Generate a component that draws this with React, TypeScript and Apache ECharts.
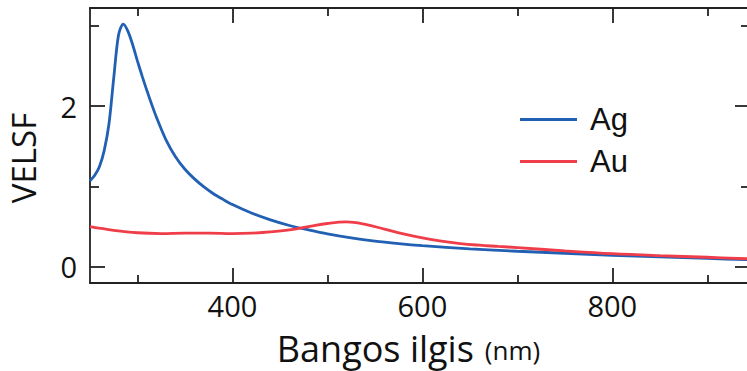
import React, { useEffect, useRef } from "react";
import * as echarts from "echarts";

// Ag (blue) curve: wavelength (nm) and VELSF values
const agNm = [250, 255, 260, 265, 270, 275, 280, 285, 290, 295, 300, 305, 310, 315, 320, 330, 340, 350, 360, 370, 380, 390, 400, 420, 440, 460, 480, 500, 525, 550, 575, 600, 650, 700, 750, 800, 850, 900, 945];
const agVal = [1.07, 1.14, 1.25, 1.45, 1.78, 2.35, 2.88, 3.02, 2.93, 2.76, 2.56, 2.37, 2.19, 2.02, 1.86, 1.58, 1.37, 1.215, 1.095, 0.995, 0.91, 0.84, 0.775, 0.67, 0.585, 0.515, 0.46, 0.41, 0.36, 0.32, 0.29, 0.265, 0.225, 0.195, 0.17, 0.145, 0.125, 0.105, 0.09];

// Au (red) curve
const auNm = [250, 275, 300, 325, 350, 375, 400, 420, 440, 460, 480, 500, 520, 540, 560, 580, 600, 620, 640, 660, 680, 700, 750, 800, 850, 900, 945];
const auVal = [0.5, 0.455, 0.425, 0.415, 0.42, 0.42, 0.415, 0.42, 0.435, 0.46, 0.5, 0.54, 0.56, 0.53, 0.47, 0.41, 0.36, 0.32, 0.29, 0.27, 0.255, 0.24, 0.2, 0.165, 0.14, 0.12, 0.1];

const seriesNames = ["Ag", "Au"];
const xMajorTicks = [400, 600, 800];
const xMinorTicks = [300, 500, 700, 900];
const yMajorTicks = [0, 2];
const yMinorTicks = [1, 3];

const X_MIN = 250;
const X_MAX = 945;
const Y_MIN = -0.2;
const Y_MAX = 3.22;

const AXIS_COLOR = "#222";
const LABEL_FONT = "'Open Sans', 'DejaVu Sans', sans-serif";

export default function App() {
  const ref = useRef<HTMLDivElement>(null);

  useEffect(() => {
    if (!ref.current) return;
    const chart = echarts.init(ref.current, undefined, { renderer: "svg" });

    const line = { show: true, onZero: false, lineStyle: { color: AXIS_COLOR, width: 1.8 } };
    const noLine = { show: false, onZero: false };
    const tickStyle = { color: AXIS_COLOR, width: 1.8 };

    const xAx = (position: string, major: boolean, showLabel: boolean, extra: any = {}) => ({
      type: "value",
      position,
      min: X_MIN,
      max: X_MAX,
      axisLine: major ? line : noLine,
      axisTick: {
        show: true,
        inside: true,
        length: major ? 15 : 8,
        customValues: major ? xMajorTicks : xMinorTicks,
        lineStyle: tickStyle,
      },
      axisLabel: {
        show: showLabel,
        customValues: major ? xMajorTicks : xMinorTicks,
        fontSize: 29,
        fontFamily: LABEL_FONT,
        color: "#111",
        margin: 8,
      },
      splitLine: { show: false },
      ...extra,
    });

    const yAx = (position: string, major: boolean, showLabel: boolean, extra: any = {}) => ({
      type: "value",
      position,
      min: Y_MIN,
      max: Y_MAX,
      axisLine: major ? line : noLine,
      axisTick: {
        show: true,
        inside: true,
        length: major ? 15 : 9,
        customValues: major ? yMajorTicks : yMinorTicks,
        lineStyle: tickStyle,
      },
      axisLabel: {
        show: showLabel,
        customValues: major ? yMajorTicks : yMinorTicks,
        fontSize: 29,
        fontFamily: LABEL_FONT,
        color: "#111",
        margin: 13,
      },
      splitLine: { show: false },
      ...extra,
    });

    const option: any = {
      animation: false,
      backgroundColor: "#fff",
      grid: { left: 90, right: -3, top: 8, bottom: 88, containLabel: false, outerBoundsMode: "none" },
      legend: {
        show: true,
        orient: "vertical",
        left: 515,
        top: 99,
        icon: "rect",
        itemWidth: 57,
        itemHeight: 3,
        itemGap: 11,
        data: seriesNames,
        textStyle: {
          fontSize: 31,
          fontFamily: "'Liberation Sans', Arial, sans-serif",
          color: "#111",
          lineHeight: 30,
          padding: [0, 0, 0, 8],
        },
      },
      xAxis: [
        xAx("bottom", true, true, {
          name: "{a|Bangos ilgis}{b|(nm)}",
          nameLocation: "middle",
          nameGap: 45,
          nameTextStyle: {
            rich: {
              a: { fontSize: 36, fontFamily: LABEL_FONT, color: "#111", lineHeight: 40 },
              b: { fontSize: 26, fontFamily: LABEL_FONT, color: "#111", lineHeight: 40, padding: [4, 23, 0, 11] },
            },
          },
        }),
        xAx("bottom", false, false),
        xAx("top", true, false),
        xAx("top", false, false),
      ],
      yAxis: [
        yAx("left", true, true, {
          name: "VELSF",
          nameLocation: "middle",
          nameGap: 50,
          nameTextStyle: {
            fontSize: 33,
            fontFamily: LABEL_FONT,
            color: "#111",
            padding: [0, 25, 0, 0],
          },
        }),
        yAx("left", false, false),
        yAx("right", true, false),
        yAx("right", false, false),
      ],
      series: [
        {
          name: seriesNames[0],
          type: "line",
          xAxisIndex: 0,
          yAxisIndex: 0,
          data: agNm.map((x, i) => [x, agVal[i]]),
          showSymbol: false,
          symbol: "none",
          smooth: 0.3,
          itemStyle: { color: "#2160b2" },
          lineStyle: { color: "#2160b2", width: 2.8 },
          clip: true,
        },
        {
          name: seriesNames[1],
          type: "line",
          xAxisIndex: 0,
          yAxisIndex: 0,
          data: auNm.map((x, i) => [x, auVal[i]]),
          showSymbol: false,
          symbol: "none",
          smooth: 0.4,
          itemStyle: { color: "#ef3e4a" },
          lineStyle: { color: "#ef3e4a", width: 2.8 },
          clip: true,
        },
      ],
    };

    chart.setOption(option);
    return () => chart.dispose();
  }, []);

  return (
    <div
      ref={ref}
      style={{ position: "absolute", left: 0, top: 0, width: 747, height: 371, background: "#fff" }}
    />
  );
}
